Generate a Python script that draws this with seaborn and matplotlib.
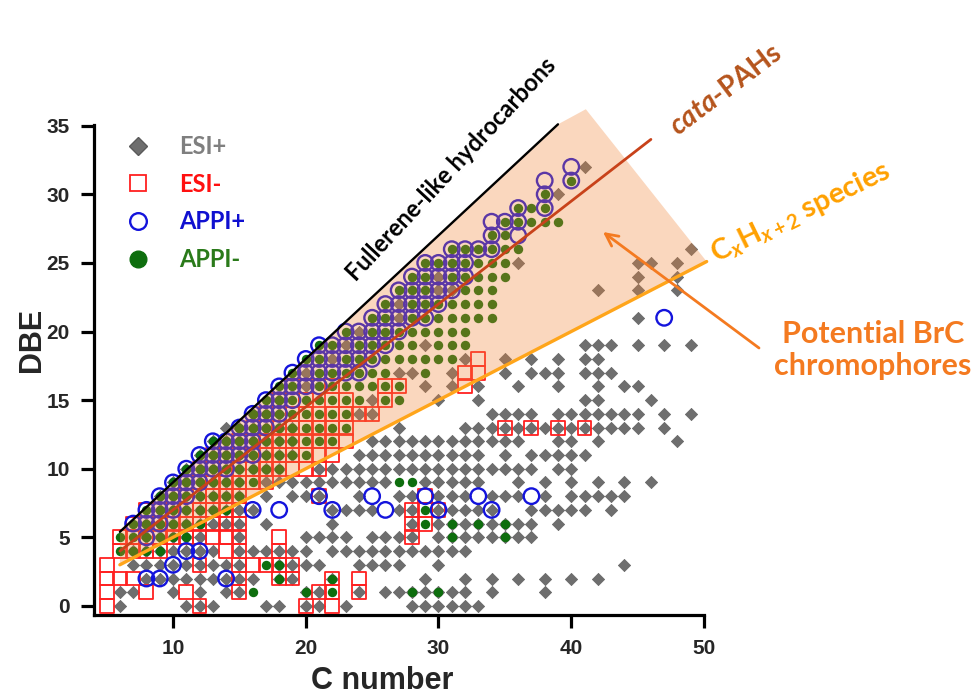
import matplotlib
matplotlib.use("Agg")
import matplotlib.pyplot as plt
import seaborn as sns
import pandas as pd
from matplotlib.lines import Line2D
from matplotlib.patches import Polygon

# ---------------- DATA (C numbers per DBE row) ----------------
esi_pos_rows = {
    0: [6, 11, 12, 13, 17, 18, 20, 21, 23, 28, 29, 30, 31, 32, 33],
    1: [6, 7, 10, 12, 14, 15, 20, 21, 24, 26, 27, 28, 29, 30, 31, 32, 34, 38],
    2: [8, 9, 10, 11, 12, 13, 14, 15, 16, 18, 19, 22, 29, 32, 34, 36, 38, 40, 42],
    3: [7, 8, 9, 10, 11, 12, 13, 14, 15, 18, 19, 20, 21, 24, 25, 26, 27, 30, 44],
    4: [7, 8, 9, 10, 11, 12, 13, 15, 16, 17, 18, 19, 20, 22, 23, 24, 25, 26, 27, 28, 29, 30, 31, 32],
    5: [8, 9, 10, 11, 12, 15, 20, 21, 22, 23, 25, 26, 27, 28, 30, 31, 32, 33, 34, 35, 36, 37],
    6: [8, 9, 10, 11, 12, 13, 14, 15, 17, 22, 28, 30, 31, 32, 33, 34, 35, 36, 37, 39],
    7: [9, 10, 11, 12, 13, 14, 15, 16, 22, 23, 24, 25, 27, 28, 30, 31, 32, 33, 34, 37, 38, 39, 40, 41, 43],
    8: [9, 10, 11, 12, 13, 14, 15, 17, 19, 20, 21, 24, 27, 28, 30, 31, 32, 34, 35, 36, 38, 40, 41, 42, 43, 44],
    9: [10, 11, 12, 13, 14, 15, 17, 18, 19, 20, 21, 22, 23, 24, 25, 26, 29, 30, 31, 32, 33, 36, 38, 40, 42, 44, 46],
    10: [11, 12, 13, 14, 15, 16, 17, 18, 21, 22, 23, 24, 25, 26, 27, 28, 29, 30, 31, 32, 33, 34, 35, 36, 37, 39, 40],
    11: [12, 13, 14, 15, 16, 17, 18, 19, 24, 25, 26, 27, 28, 29, 30, 31, 32, 33, 35, 37, 38, 39, 40, 41],
    12: [13, 14, 15, 16, 17, 18, 19, 25, 26, 27, 28, 29, 30, 31, 32, 33, 34, 35, 36, 39, 40, 42, 48],
    13: [14, 15, 16, 17, 18, 19, 27, 32, 33, 34, 35, 36, 37, 38, 39, 40, 41, 42, 43, 44, 45, 47],
    14: [16, 17, 18, 24, 25, 34, 35, 36, 37, 39, 40, 41, 42, 43, 44, 45, 47, 49],
    15: [18, 25, 30, 33, 41, 42, 46],
    16: [20, 29, 31, 33, 36, 39, 42, 44, 45],
    17: [20, 27, 28, 31, 35, 37, 38, 39, 41, 42, 43],
    18: [22, 32, 35, 37, 39, 41, 42],
    19: [23, 29, 41, 42, 43, 45, 47, 49],
    20: [24],
    21: [27, 45],
    22: [27],
    23: [30, 31, 42, 45, 48],
    24: [30, 45, 48],
    25: [36, 45, 46, 48],
    26: [49],
    30: [39],
    32: [41],
}

esi_neg_rows = {
    0: [5, 12, 20, 22],
    1: [5, 8, 11, 15, 21, 22, 24],
    2: [5, 6, 7, 15, 18, 19, 22, 24],
    3: [5, 12, 15, 16, 17, 18, 19],
    4: [6, 7, 8, 9, 14, 15, 18],
    5: [6, 7, 8, 9, 10, 11, 12, 13, 14, 15, 18, 28],
    6: [7, 8, 9, 10, 11, 12, 13, 14, 15, 28, 29],
    7: [8, 9, 10, 11, 12, 13, 14, 15, 28, 29, 30],
    8: [10, 11, 12, 13, 14, 15, 21, 29],
    9: [11, 12, 13, 14, 15, 16, 17],
    10: [12, 13, 14, 15, 16, 17, 18, 19, 20, 21],
    11: [13, 14, 15, 16, 17, 18, 19, 20, 21, 22],
    12: [15, 16, 17, 18, 19, 20, 21, 22, 23],
    13: [16, 17, 18, 19, 20, 21, 22, 23, 35, 37, 39, 41],
    14: [17, 18, 19, 20, 21, 22, 23, 24, 25],
    15: [18, 19, 20, 22, 23, 26],
    16: [19, 20, 22, 26, 27, 32],
    17: [32, 33],
    18: [33],
}

appi_pos_rows = {
    2: [8, 9, 14],
    3: [10],
    4: [11, 12],
    5: [8],
    6: [7, 8, 9],
    7: [8, 9, 10, 16, 18, 22, 26, 30, 34],
    8: [9, 10, 11, 21, 25, 29, 33, 37],
    9: [10, 11, 12],
    10: [11, 12, 13, 14],
    11: [12, 13, 14, 15, 16],
    12: [13, 14, 15, 16],
    13: [15, 16, 17],
    14: [16, 17, 18],
    15: [17, 18, 19],
    16: [18, 19, 20, 21],
    17: [19, 20, 21, 22, 23, 24],
    18: [20, 21, 22, 23, 24, 25],
    19: [21, 22, 23, 24, 25, 26],
    20: [23, 24, 25, 26, 27],
    21: [25, 26, 27, 28, 29, 47],
    22: [26, 27, 28, 29, 30],
    23: [27, 28, 29, 30, 31],
    24: [28, 29, 30, 31, 32],
    25: [29, 30, 31, 32],
    26: [31, 32, 33, 34],
    27: [34, 36],
    28: [34, 35, 36],
    29: [36, 38],
    30: [38],
    31: [38, 40],
    32: [40],
}

appi_neg_rows = {
    1: [16, 20, 22, 28, 30],
    2: [18, 22],
    3: [17, 18],
    4: [6, 7, 8, 9],
    5: [6, 7, 8, 9, 10, 11, 31, 35],
    6: [7, 8, 9, 10, 11, 12, 29, 31, 33, 35],
    7: [8, 9, 10, 11, 12, 13, 14, 29],
    8: [9, 10, 11, 12, 13, 14, 15],
    9: [10, 11, 12, 13, 14, 15, 16, 27, 28],
    10: [11, 12, 13, 14, 15, 16, 17, 18],
    11: [12, 13, 14, 15, 16, 17, 18, 19, 20],
    12: [13, 14, 15, 16, 17, 18, 19, 20, 21, 22],
    13: [15, 16, 17, 18, 19, 20, 21, 22, 23],
    14: [16, 17, 18, 19, 20, 21, 22, 23],
    15: [17, 18, 19, 20, 21, 22, 23, 24, 26, 27],
    16: [18, 19, 21, 22, 23, 24, 25, 26, 27],
    17: [19, 21, 22, 23, 24, 25, 26, 29],
    18: [20, 21, 23, 24, 25, 26, 27, 28, 29, 30, 31],
    19: [21, 22, 24, 25, 26, 27, 28, 30, 31, 32],
    20: [23, 25, 26, 27, 28, 29, 30, 31, 32],
    21: [25, 26, 28, 29, 30, 31, 32, 33, 34],
    22: [26, 28, 29, 30, 31, 32, 33, 34],
    23: [27, 28, 29, 32, 33, 34],
    24: [28, 29, 31, 32, 33, 34, 35],
    25: [29, 30, 31, 32, 33, 34, 35],
    26: [31, 32, 33, 34, 35, 36],
    27: [34, 35],
    28: [35, 36, 37, 38, 39],
    29: [36, 37, 38],
    30: [38],
    31: [40],
}

# reference lines (C, DBE end points)
fullerene_C = [6, 39]
fullerene_DBE = [5.4, 35.1]
cata_C = [6, 46]
cata_DBE = [4.0, 34.0]
alkane_C = [6, 50.2]
alkane_DBE = [3.0, 25.1]
shade_C = [6, 39, 41.1, 50.2, 6]
shade_DBE = [5.4, 35.1, 36.2, 25.1, 3.0]

x_ticks = [10, 20, 30, 40, 50]
y_ticks = [0, 5, 10, 15, 20, 25, 30, 35]


def to_frame(rows):
    cs, ds = [], []
    for d, clist in rows.items():
        for c in clist:
            cs.append(c)
            ds.append(d)
    return pd.DataFrame({"C": cs, "DBE": ds})


df_ep = to_frame(esi_pos_rows)
df_en = to_frame(esi_neg_rows)
df_ap = to_frame(appi_pos_rows)
df_an = to_frame(appi_neg_rows)

sns.set_theme(style="white")
plt.rcParams["font.family"] = ["Liberation Sans", "DejaVu Sans"]
plt.rcParams["mathtext.fontset"] = "custom"
plt.rcParams["mathtext.rm"] = "Lato:bold"
plt.rcParams["mathtext.it"] = "Lato:bold:italic"
plt.rcParams["mathtext.bf"] = "Lato:bold"

W, H = 980, 700
fig = plt.figure(figsize=(9.8, 7.0), dpi=100)
ax = fig.add_axes([94 / W, 85 / H, 610 / W, 490 / H])

c_grey = "#6E6E6E"
c_red = "#FF2020"
c_blue = "#1414DC"
c_green = "#0E6E0E"

sns.scatterplot(data=df_ep, x="C", y="DBE", marker="D", s=40, color=c_grey,
                edgecolor="#5A5A5A", linewidth=0.4, ax=ax, zorder=2, legend=False)
sns.scatterplot(data=df_en, x="C", y="DBE", marker="s", s=100, facecolor="none",
                edgecolor=c_red, linewidth=1.3, ax=ax, zorder=3, legend=False)
sns.scatterplot(data=df_ap, x="C", y="DBE", marker="o", s=125, facecolor="none",
                edgecolor=c_blue, linewidth=1.7, ax=ax, zorder=4, legend=False)
sns.scatterplot(data=df_an, x="C", y="DBE", marker="o", s=46, color=c_green,
                edgecolor=c_green, linewidth=0, ax=ax, zorder=5, legend=False)

# shaded region (drawn over the markers)
shade = Polygon(list(zip(shade_C, shade_DBE)), closed=True, facecolor="#F28436",
                edgecolor="none", alpha=0.32, zorder=6, clip_on=False)
ax.add_patch(shade)

ax.plot(fullerene_C, fullerene_DBE, color="black", lw=1.7, zorder=7, clip_on=False)
ax.plot(cata_C, cata_DBE, color="#C8421A", lw=2.0, zorder=7, clip_on=False)
ax.plot(alkane_C, alkane_DBE, color="#FFA51A", lw=2.4, zorder=7, clip_on=False)

ax.set_xlim(4.05, 50)
ax.set_ylim(-0.66, 35.05)
ax.set_xticks(x_ticks)
ax.set_yticks(y_ticks)
for s in ["top", "right"]:
    ax.spines[s].set_visible(False)
for s in ["left", "bottom"]:
    ax.spines[s].set_linewidth(2.3)
    ax.spines[s].set_color("black")
ax.tick_params(axis="both", which="major", direction="out", length=9.5, width=2.3,
               color="black", labelsize=15, pad=8, left=True, bottom=True)
for lab in ax.get_xticklabels() + ax.get_yticklabels():
    lab.set_fontweight("bold")
ax.set_xlabel("")
ax.set_ylabel("")

fig.text(382 / W, 1 - 681 / H, "C number", ha="center", va="center",
         fontsize=22, fontweight="bold")
fig.text(32 / W, 1 - 340 / H, "DBE", ha="center", va="center", rotation=90,
         fontsize=22, fontweight="bold")

# legend
handles = [
    Line2D([], [], marker="D", ls="none", markersize=9, color=c_grey, markeredgecolor="#5A5A5A"),
    Line2D([], [], marker="s", ls="none", markersize=12, markerfacecolor="none",
           markeredgecolor=c_red, markeredgewidth=1.3),
    Line2D([], [], marker="o", ls="none", markersize=12, markerfacecolor="none",
           markeredgecolor=c_blue, markeredgewidth=1.7),
    Line2D([], [], marker="o", ls="none", markersize=12, color=c_green),
]
labels = ["ESI+", "ESI-", "APPI+", "APPI-"]
leg = fig.legend(handles, labels, loc="upper left", bbox_to_anchor=(124 / W, 1 - 135 / H),
                 frameon=False, borderpad=0, borderaxespad=0, handlelength=1.2,
                 handletextpad=1.15, labelspacing=0.62,
                 prop={"family": "Lato", "weight": "bold", "size": 17},
                 labelcolor=["#7F7F7F", "#FF1010", "#1010D0", "#2A7A1A"])

# annotations
fig.text(451 / W, 1 - 169 / H, "Fullerene-like hydrocarbons", rotation=47,
         rotation_mode="anchor", ha="center", va="center", fontsize=17,
         family="Lato", fontweight="bold", color="black")
fig.text(726 / W, 1 - 90 / H, r"$cata$-PAHs", rotation=37, rotation_mode="anchor",
         ha="center", va="center", fontsize=20, family="Lato", fontweight="bold",
         color="#B5541C")
fig.text(801 / W, 1 - 212 / H, r"C$_x$H$_{x+2}$ species", rotation=26,
         rotation_mode="anchor", ha="center", va="center", fontsize=21,
         family="Lato", fontweight="bold", color="#FFA000")
fig.text(873 / W, 1 - 350 / H, "Potential BrC\nchromophores", ha="center", va="center",
         fontsize=22, family="Lato", fontweight="bold", color="#F47A20",
         linespacing=1.2)
ax.annotate("", xy=(603, H - 232), xycoords="figure pixels",
            xytext=(759, H - 348), textcoords="figure pixels",
            arrowprops=dict(arrowstyle="->", color="#F47A20", lw=2.0,
                            mutation_scale=22, shrinkA=0, shrinkB=0), zorder=9)

fig.savefig("out.png", dpi=100)
